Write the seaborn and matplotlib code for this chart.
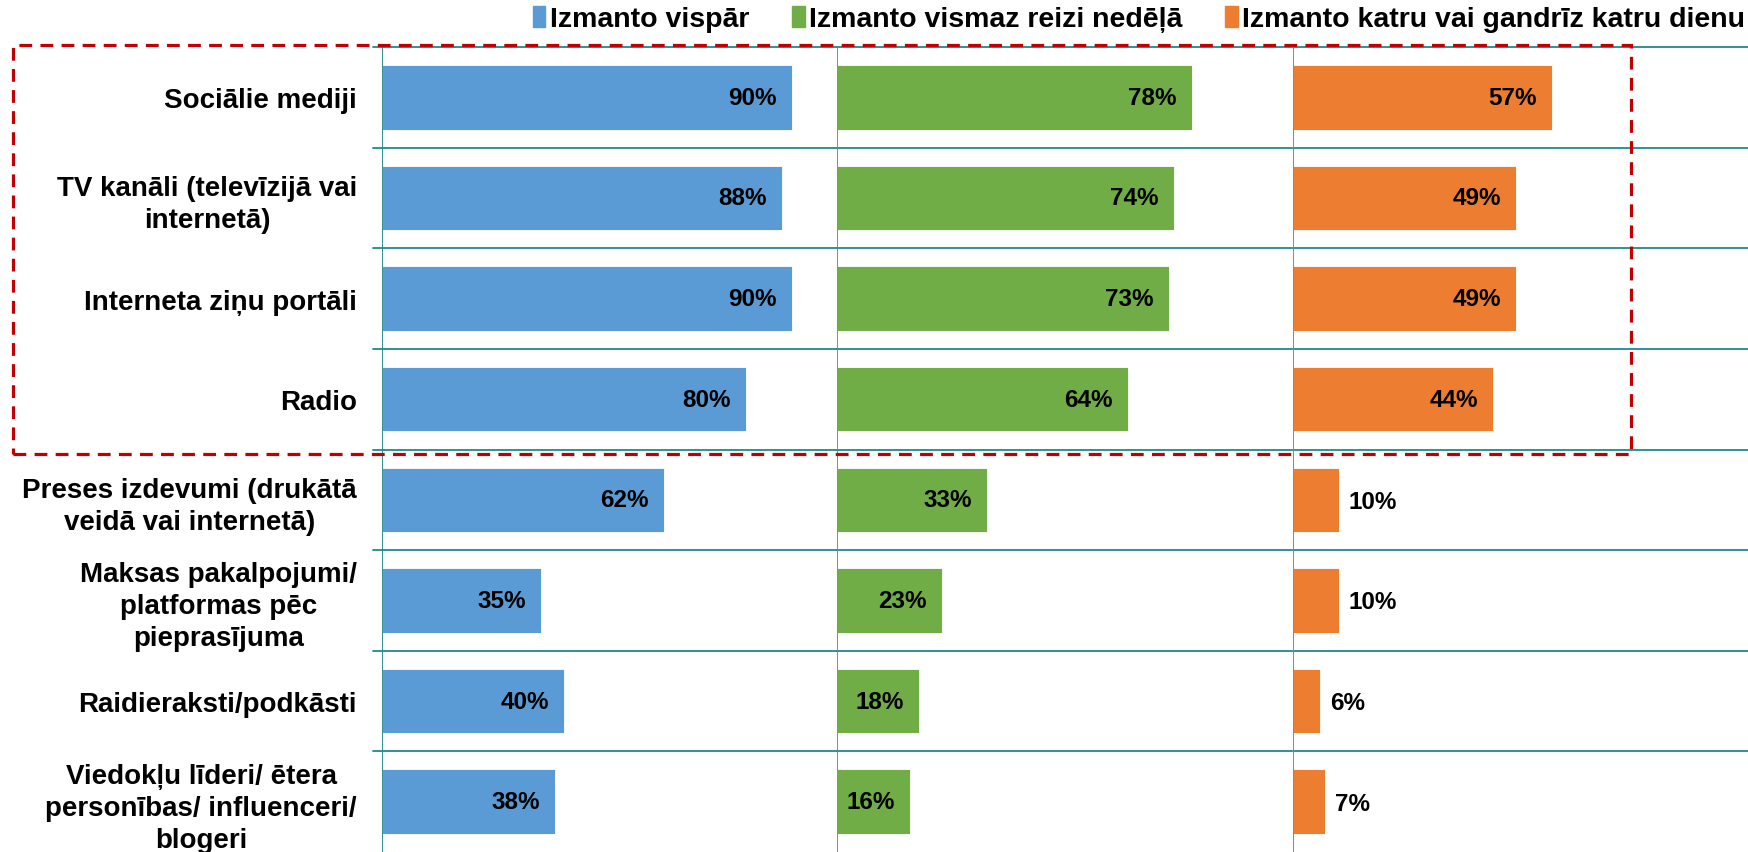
import pandas as pd
import numpy as np
import matplotlib.pyplot as plt
import matplotlib.patches as mpatches
import seaborn as sns

# =========================
# DATA
# =========================
kategorijas = [
    "Sociālie mediji",
    "TV kanāli (televīzijā vai\ninternetā)",
    "Interneta ziņu portāli",
    "Radio",
    "Preses izdevumi (drukātā\nveidā vai internetā)",
    "Maksas pakalpojumi/\nplatformas pēc\npieprasījuma",
    "Raidieraksti/podkāsti",
    "Viedokļu līderi/ ētera\npersonības/ influenceri/\nblogeri",
]
izmanto_vispar = [90, 88, 90, 80, 62, 35, 40, 38]
izmanto_nedela = [78, 74, 73, 64, 33, 23, 18, 16]
izmanto_dienu = [57, 49, 49, 44, 10, 10, 6, 7]

serijas = [
    "Izmanto vispār",
    "Izmanto vismaz reizi nedēļā",
    "Izmanto katru vai gandrīz katru dienu",
]
krasas = ["#5b9bd5", "#70ad47", "#ed7d31"]

# =========================
# STYLE
# =========================
sns.set_style("white")
plt.rcParams["font.family"] = ["Liberation Sans", "DejaVu Sans"]
plt.rcParams["font.weight"] = "bold"
plt.rcParams["text.color"] = "black"
plt.rcParams["ytick.color"] = "black"

W, H = 1748, 853
fig = plt.figure(figsize=(W / 100, H / 100), dpi=100)

teal = "#1f8a8a"
pelek = "#808080"

panel_left = [382, 837, 1293]
panel_w = 455
top_px = 48

vertibas = [izmanto_vispar, izmanto_nedela, izmanto_dienu]

for i, (vals, kr) in enumerate(zip(vertibas, krasas)):
    ax = fig.add_axes([panel_left[i] / W, 0, panel_w / W, (H - top_px) / H])
    df = pd.DataFrame({"kategorija": kategorijas, "vertiba": vals})
    sns.barplot(data=df, x="vertiba", y="kategorija", color=kr, saturation=1,
                width=0.64, ax=ax, edgecolor="#ffffff", linewidth=0.6)
    ax.set_xlim(0, 100)
    ax.set_ylim(7.5, -0.5)
    ax.set_xlabel("")
    ax.set_ylabel("")
    ax.set_xticks([])
    for s in ax.spines.values():
        s.set_visible(False)

    # horizontal separators
    xmin = -9 / panel_w if i == 0 else 0
    for yb in np.arange(-0.5, 7, 1.0):
        ax.axhline(yb, xmin=xmin, xmax=1, color=teal, lw=1.3, clip_on=False, zorder=0)
    ax.axvline(0, color=teal if i == 0 else pelek, lw=1.3, zorder=3)

    if i == 0:
        ax.tick_params(axis="y", length=0, pad=18)
        for lbl in ax.get_yticklabels():
            lbl.set_fontsize(20)
            lbl.set_fontweight("bold")
            lbl.set_color("black")
            lbl.set_multialignment("center")
            lbl.set_linespacing(1.3)
    else:
        ax.set_yticks([])

    # value labels
    for j, v in enumerate(vals):
        if v >= 15:
            ax.annotate(f"{v}%", (v, j), xytext=(-11, 0), textcoords="offset points",
                        ha="right", va="center", fontsize=17.5, fontweight="bold",
                        color="black")
        else:
            ax.annotate(f"{v}%", (v, j), xytext=(7, -1), textcoords="offset points",
                        ha="left", va="center", fontsize=17.5, fontweight="bold",
                        color="black")

# red dashed highlight box
rect = mpatches.Rectangle((13 / W, 1 - 455 / H), (1631 - 13) / W, (455 - 46) / H,
                          transform=fig.transFigure, fill=False, edgecolor="#c00000",
                          lw=2.3, linestyle=(0, (4, 2.6)), zorder=10)
fig.patches.append(rect)

# legend
handles = [mpatches.Patch(color=c) for c in krasas]
fig.legend(handles, serijas, loc="center right", bbox_to_anchor=(1745 / W, 1 - 20 / H),
           ncol=3, frameon=False, fontsize=20.5, handlelength=0.45, handleheight=0.75,
           handletextpad=0.15, columnspacing=1.5, borderaxespad=0, borderpad=0)

fig.savefig("out.png", dpi=100)
